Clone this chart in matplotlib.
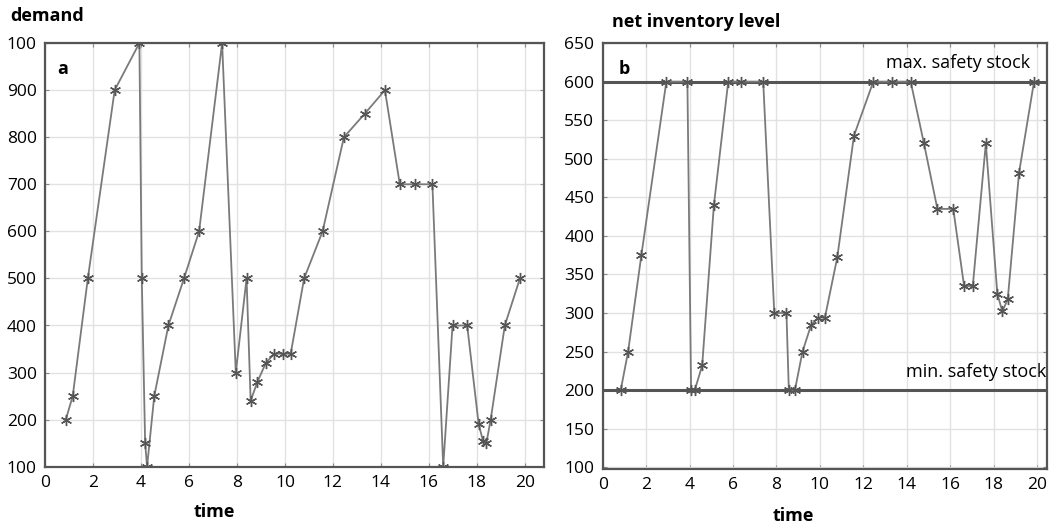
import matplotlib.pyplot as plt
import numpy as np

plt.rcParams['font.family'] = ['Open Sans', 'DejaVu Sans']

# panel a: demand over time
t_demand = [0.86, 1.15, 1.78, 2.9, 3.93, 4.03, 4.17, 4.25, 4.55, 5.14, 5.79,
            6.42, 7.38, 7.95, 8.4, 8.57, 8.85, 9.2, 9.55, 9.9, 10.24, 10.8,
            11.57, 12.46, 13.33, 14.17, 14.79, 15.42, 16.15, 16.6, 16.99,
            17.6, 18.08, 18.26, 18.4, 18.58, 19.17, 19.8]
demand = [200, 250, 500, 900, 1000, 500, 150, 100, 250, 400, 500,
          600, 1000, 300, 500, 240, 280, 320, 340, 340, 340, 500,
          600, 800, 850, 900, 700, 700, 700, 100, 400,
          400, 190, 155, 150, 200, 400, 500]

# panel b: net inventory level over time
t_stock = [0.83, 1.17, 1.78, 2.93, 3.9, 4.07, 4.24, 4.58, 5.12, 5.78, 6.36,
           7.39, 7.9, 8.46, 8.57, 8.85, 9.2, 9.59, 9.92, 10.23, 10.8, 11.57,
           12.46, 13.33, 14.18, 14.79, 15.41, 16.14, 16.64, 17.04, 17.64,
           18.17, 18.4, 18.65, 19.17, 19.86]
stock = [200, 250, 375, 600, 600, 200, 200, 232, 440, 600, 600,
         600, 300, 300, 200, 200, 250, 284, 294, 294, 372, 530,
         600, 600, 600, 520, 435, 435, 335, 335, 520,
         325, 302, 318, 482, 600]

max_safety = 600
min_safety = 200

demand_ticks = [100, 200, 300, 400, 500, 600, 700, 800, 900, 1000]
demand_labels = ['100', '200', '300', '400', '500', '600', '700', '800', '900', '100']
stock_ticks = list(range(100, 651, 50))
time_ticks = list(range(0, 21, 2))

line_col = '#7a7a7a'
frame_col = '#555555'
star = (6, 2, 0)

fig = plt.figure(figsize=(10.5, 5.25), dpi=100)
ax1 = fig.add_axes([0.043, 0.111, 0.475, 0.807])
ax2 = fig.add_axes([0.574, 0.107, 0.423, 0.811])

for ax in (ax1, ax2):
    ax.grid(True, color='#e2e2e2', lw=1.0)
    ax.set_axisbelow(True)
    ax.tick_params(direction='in', top=True, right=True, labelsize=12.5,
                   color='#888888', length=3, pad=6)
    for s in ax.spines.values():
        s.set_color(frame_col)
        s.set_linewidth(1.6)
    ax.set_xticks(time_ticks)

ax1.plot(t_demand, demand, color=line_col, lw=1.3, marker=star, ms=8,
         mec='#555555', mew=1.0)
ax1.set_xlim(0, 20.8)
ax1.set_ylim(100, 1000)
ax1.set_yticks(demand_ticks)
ax1.set_yticklabels(demand_labels)
ax1.set_xlabel('time', fontsize=13, fontweight='bold')
ax1.xaxis.set_label_coords(0.34, -0.085)
ax1.text(0.025, 0.96, 'a', transform=ax1.transAxes, fontsize=13,
         fontweight='bold', va='top')

ax2.axhline(max_safety, color=frame_col, lw=2.2, zorder=2)
ax2.axhline(min_safety, color=frame_col, lw=2.2, zorder=2)
ax2.plot(t_stock, stock, color=line_col, lw=1.3, marker=star, ms=8,
         mec='#555555', mew=1.0, zorder=3)
ax2.set_xlim(0, 20.45)
ax2.set_ylim(98, 650)
ax2.set_yticks(stock_ticks)
ax2.set_xlabel('time', fontsize=13, fontweight='bold')
ax2.xaxis.set_label_coords(0.43, -0.09)
ax2.text(0.035, 0.96, 'b', transform=ax2.transAxes, fontsize=13,
         fontweight='bold', va='top')
ax2.text(19.7, 612, 'max. safety stock', fontsize=13, ha='right', va='bottom')
ax2.text(20.4, 212, 'min. safety stock', fontsize=13, ha='right', va='bottom')

fig.text(0.01, 0.97, 'demand', fontsize=13, fontweight='bold', va='center')
fig.text(0.583, 0.958, 'net inventory level', fontsize=13, fontweight='bold',
         va='center')

fig.savefig('out.png', dpi=100)
